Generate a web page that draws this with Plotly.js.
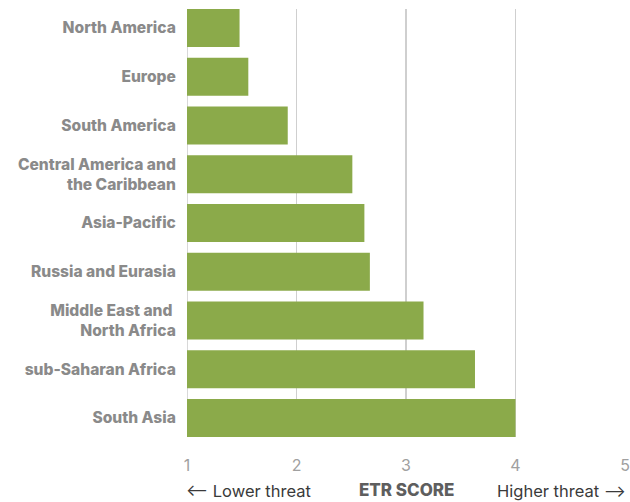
<!DOCTYPE html>
<html><head><meta charset="utf-8">
<script src="https://cdn.plot.ly/plotly-3.0.1.min.js"></script>
<style>html,body{margin:0;padding:0;background:#fff}#chart{width:630px;height:502px}</style>
</head><body><div id="chart"></div>
<script>
const regions = ["North America","Europe","South America","Central America and<br>the Caribbean","Asia-Pacific","Russia and Eurasia","Middle East and <br>North Africa","sub-Saharan Africa","South Asia"];
const etrScores = [1.48,1.56,1.92,2.51,2.62,2.67,3.16,3.63,4.0];
const xTicks = [1,2,3,4,5];
const xLabelLeft = "⟵ Lower threat";
const xLabelCenter = "ETR SCORE";
const xLabelRight = "Higher threat ⟶";

const trace = {
  type: "bar", orientation: "h",
  y: regions, x: etrScores.map(v => v - 1), base: 1,
  marker: {color: "#8BAA4A"},
  hoverinfo: "skip"
};
const layout = {
  width: 630, height: 502,
  margin: {l: 187, r: 5, t: 9, b: 65},
  paper_bgcolor: "#fff", plot_bgcolor: "#fff",
  bargap: 0.22,
  showlegend: false,
  font: {family: "Inter, 'Liberation Sans', sans-serif"},
  xaxis: {
    range: [1, 5], tickvals: xTicks, ticktext: xTicks.map(String),
    showgrid: true, gridcolor: "#cfcfcf", gridwidth: 1.6,
    zeroline: false, showline: false,
    ticks: "outside", ticklen: 14, tickcolor: "rgba(0,0,0,0)",
    tickfont: {size: 16, color: "#a0a0a0", family: "Inter, sans-serif"}
  },
  yaxis: {
    range: [8.39, -0.39], type: "category",
    showgrid: false, zeroline: false, showline: false,
    ticks: "outside", ticklen: 7, tickcolor: "rgba(0,0,0,0)",
    tickfont: {size: 15.6, color: "#8a8a8a", family: "Inter, sans-serif", weight: 800}
  },
  shapes: [
    {type: "line", xref: "x", yref: "paper", x0: 1, x1: 1, y0: 0, y1: 1, line: {color: "#cfcfcf", width: 1.6}, layer: "below"}
  ],
  annotations: [
    {text: xLabelLeft, xref: "paper", yref: "paper", x: 0, y: 0, xshift: -3, yshift: -54, xanchor: "left", yanchor: "middle", showarrow: false, font: {size: 16.5, color: "#3a3a3a", family: "Inter, 'DejaVu Sans', sans-serif"}},
    {text: xLabelCenter, xref: "paper", yref: "paper", x: 0.5, y: 0, yshift: -53, xanchor: "center", yanchor: "middle", showarrow: false, font: {size: 17, color: "#5e5e5e", family: "Inter, sans-serif", weight: 800}},
    {text: xLabelRight, xref: "paper", yref: "paper", x: 1, y: 0, xshift: 3, yshift: -54, xanchor: "right", yanchor: "middle", showarrow: false, font: {size: 16.5, color: "#3a3a3a", family: "Inter, 'DejaVu Sans', sans-serif"}}
  ]
};
Plotly.newPlot("chart", [trace], layout, {displayModeBar: false, staticPlot: true});
</script></body></html>
